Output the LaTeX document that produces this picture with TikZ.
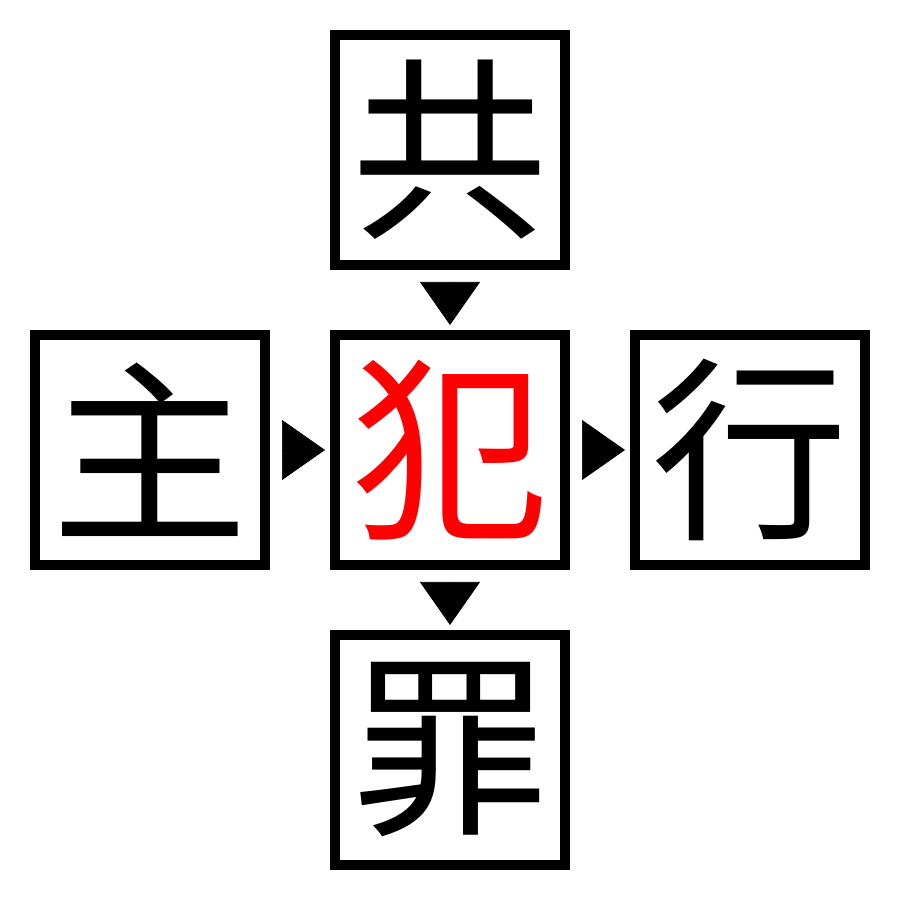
\documentclass[tikz,border=0pt]{standalone}
\usepackage{fontspec}
\newfontfamily\cjk{Noto Sans CJK JP}
\usetikzlibrary{arrows.meta}
\begin{document}
\begin{tikzpicture}[
    cell/.style={draw, line width=1mm, minimum size=2.3cm, inner sep=0pt,
      font=\cjk\fontsize{56}{56}\selectfont},
    pointer/.style={line width=0.2pt, shorten <=1.2mm, shorten >=0.5mm,
      -{Triangle[width=6mm,length=4.3mm]}}]
      \useasboundingbox (0,0) rectangle (9,9);
      \draw
        (4.5,7.5) node[cell] (gong){共}
        (1.5,4.5) node[cell] (zhu){主}
        (4.5,4.5) node[cell, text=red] (fan){犯}
        (7.5,4.5) node[cell] (xing){行}
        (4.5,1.5) node[cell] (zui){罪};
      \begin{scope}[pointer]
        \draw (gong) to (fan);
        \draw (zhu) to (fan);
        \draw (fan) to (xing);
        \draw (fan) to (zui);
      \end{scope}
    \end{tikzpicture}
\end{document}
